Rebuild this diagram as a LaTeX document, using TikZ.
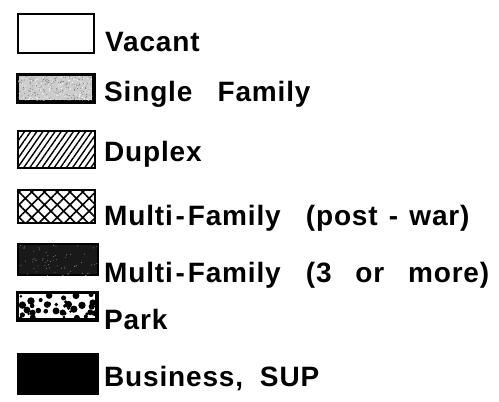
\documentclass[tikz,border=0pt]{standalone}
\usepackage{fontspec}
\newfontfamily\legendfont[LetterSpace=3]{Liberation Sans}
\usetikzlibrary{patterns.meta, calc}

\begin{document}
\begin{tikzpicture}[
    x=1pt, y=-1pt,
    swatch/.style={rectangle, draw=black, line width=2.4pt, inner sep=0pt, anchor=north west},
    lbl/.style={anchor=base west, inner sep=0pt, font=\legendfont\fontsize{28}{32}\selectfont\bfseries}
]

% White background fixes the page size
\path[fill=white, use as bounding box] (0,0) rectangle (499,402);
\pgfmathsetseed{17}

% ==================== SWATCHES ====================

% Vacant
\node[swatch, minimum width=76pt, minimum height=39pt] (vacant) at (17,13) {};

% Single Family: grey stipple
\node[swatch, fill=black!20, minimum width=75pt, minimum height=26pt] (single) at (17,74) {};
\begin{scope}
  \clip ($(single.south west)+(1.2,-1.2)$) rectangle ($(single.north east)+(-1.2,1.2)$);
  \foreach \i in {1,...,200} \fill[black!55] ($(single.south west)+({75*rnd},{-26*rnd})$) circle (0.5pt);
  \foreach \i in {1,...,160} \fill[white] ($(single.south west)+({75*rnd},{-26*rnd})$) circle (0.5pt);
\end{scope}
\draw[line width=2.4pt] (single.south west) rectangle (single.north east);

% Duplex: diagonal lines
\node[swatch, pattern={Lines[angle=55, distance=5pt, line width=1.4pt]}, minimum width=77pt, minimum height=37pt] (duplex) at (17,130) {};

% Multi-Family (post-war): cross hatch
\node[swatch, pattern={Hatch[angle=45, distance=9pt, line width=1.6pt]}, minimum width=77pt, minimum height=33pt] (postwar) at (17,189) {};

% Multi-Family (3 or more): dark with specks
\node[swatch, fill=black!90, minimum width=80pt, minimum height=31pt] (multi) at (17,243) {};
\begin{scope}
  \clip ($(multi.south west)+(1.2,-1.2)$) rectangle ($(multi.north east)+(-1.2,1.2)$);
  \foreach \i in {1,...,70} \fill[black!45] ($(multi.south west)+({80*rnd},{-31*rnd})$) circle (0.5pt);
\end{scope}

% Park: white with black blobs
\node[swatch, minimum width=78pt, minimum height=26pt] (park) at (17,292) {};
\begin{scope}
  \clip (park.south west) rectangle (park.north east);
  \foreach \i in {1,...,40} \fill[black] ($(park.south west)+({78*rnd},{-26*rnd})$) circle ({1.2+2.6*rnd});
\end{scope}
\draw[line width=2.4pt] (park.south west) rectangle (park.north east);

% Business, SUP: solid black
\node[swatch, fill=black, minimum width=80pt, minimum height=40pt] (business) at (17,353) {};

% ==================== LABELS ====================

\node[lbl] (t_vacant) at (105,51) {Vacant};
\node[lbl] (t_single) at (104,101) {Single\hspace{0.9em}Family};
\node[lbl] (t_duplex) at (104,161) {Duplex};
\node[lbl] (t_postwar) at (104,225) {Multi\hspace{0.1em}-\hspace{0.1em}Family\hspace{0.9em}(post\hspace{0.4em}-\hspace{0.4em}war)};
\node[lbl] (t_multi) at (104,282) {Multi\hspace{0.1em}-\hspace{0.1em}Family\hspace{0.9em}(3\hspace{0.85em}or\hspace{0.85em}more)};
\node[lbl] (t_park) at (104,329) {Park};
\node[lbl] (t_business) at (104,386) {Business,\hspace{0.6em}SUP};

\end{tikzpicture}
\end{document}
